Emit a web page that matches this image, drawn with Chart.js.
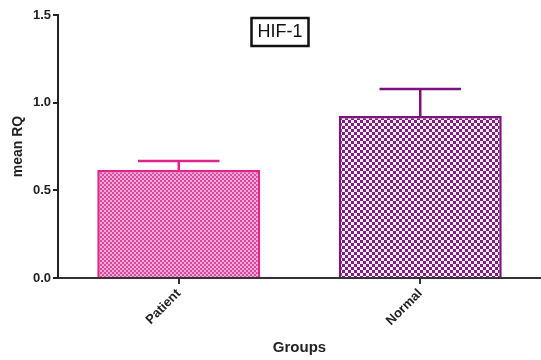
<!DOCTYPE html>
<html>
<head>
<meta charset="utf-8">
<script src="https://cdn.jsdelivr.net/npm/chart.js@4/dist/chart.umd.min.js"></script>
<style>
  html, body { margin: 0; padding: 0; background: #fff; }
  #wrap { width: 541px; height: 360px; position: relative; }
</style>
</head>
<body>
<div id="wrap"><canvas id="c" width="541" height="360"></canvas></div>
<script>
// Group names and mean relative quantification (RQ) with upper error limits
const groups = ['Patient', 'Normal'];
const meanRQ = [0.616, 0.924];
const errorUpper = [0.667, 1.078];
const yTicks = [0.0, 0.5, 1.0, 1.5];
const chartTitle = 'HIF-1';

const lineColors = ['#e0248c', '#7d147d'];

// Checkerboard fill used inside each bar
function checker(size, dark, light) {
  const t = document.createElement('canvas');
  t.width = size * 2; t.height = size * 2;
  const g = t.getContext('2d');
  g.fillStyle = light; g.fillRect(0, 0, size * 2, size * 2);
  g.fillStyle = dark;
  g.fillRect(0, 0, size, size);
  g.fillRect(size, size, size, size);
  return g.createPattern(t, 'repeat');
}
const ctx = document.getElementById('c').getContext('2d');
const fills = [
  checker(2, '#d94aa0', '#f4a8d4'),
  checker(3, '#7d1f7d', '#fbeaf8')
];

// Error bars (upper only, with cap) and the boxed title
const extras = {
  id: 'extras',
  afterDatasetsDraw(chart) {
    const c = chart.ctx;
    const meta = chart.getDatasetMeta(0);
    const y = chart.scales.y;
    c.save();
    meta.data.forEach((bar, i) => {
      const x = bar.x;
      const yTop = y.getPixelForValue(meanRQ[i]);
      const yErr = y.getPixelForValue(errorUpper[i]);
      const cap = bar.width / 4;
      c.strokeStyle = lineColors[i];
      c.lineWidth = 2.5;
      c.beginPath();
      c.moveTo(x, yTop); c.lineTo(x, yErr);
      c.moveTo(x - cap, yErr); c.lineTo(x + cap, yErr);
      c.stroke();
    });
    // title box
    c.font = '18px "Liberation Sans", Arial, sans-serif';
    c.fillStyle = '#111';
    c.textAlign = 'center';
    c.textBaseline = 'middle';
    const cx = 280, cy = 32;
    c.fillText(chartTitle, cx, cy);
    const w = c.measureText(chartTitle).width + 12;
    c.strokeStyle = '#111';
    c.lineWidth = 2.5;
    c.strokeRect(cx - w / 2, cy - 14, w, 28);
    c.restore();
  }
};

const tickFont = { family: '"Liberation Sans", Arial, sans-serif', size: 13, weight: 'bold' };

new Chart(ctx, {
  type: 'bar',
  data: {
    labels: groups,
    datasets: [{
      data: meanRQ,
      backgroundColor: fills,
      borderColor: lineColors,
      borderWidth: 2.5,
      borderSkipped: 'bottom',
      categoryPercentage: 1,
      barPercentage: 0.675
    }]
  },
  plugins: [extras],
  options: {
    responsive: false,
    animation: false,
    layout: { padding: { top: 15, right: 0, left: 10, bottom: 0 } },
    plugins: { legend: { display: false }, tooltip: { enabled: false } },
    scales: {
      x: {
        afterFit(s) { s.height = 82; },
        border: { color: '#333', width: 2 },
        grid: { drawOnChartArea: false, offset: false, color: '#333', lineWidth: 2, tickLength: 6 },
        ticks: { color: '#222', font: tickFont, minRotation: 45, maxRotation: 45, padding: 2 },
        title: { display: true, text: 'Groups', color: '#222',
                 font: { family: '"Liberation Sans", Arial, sans-serif', size: 15, weight: 'bold' },
                 padding: { top: 0, bottom: 3 } }
      },
      y: {
        min: 0, max: 1.5,
        afterFit(s) { s.width = 48; },
        afterBuildTicks(s) { s.ticks = yTicks.map(v => ({ value: v })); },
        border: { color: '#222', width: 2 },
        grid: { drawOnChartArea: false, color: '#222', lineWidth: 2, tickLength: 5 },
        ticks: { color: '#222', font: tickFont, padding: 2, callback: v => v.toFixed(1) },
        title: { display: true, text: 'mean RQ', color: '#222',
                 font: { family: '"Liberation Sans", Arial, sans-serif', size: 14, weight: 'bold' },
                 padding: 0 }
      }
    }
  }
});
</script>
</body>
</html>
